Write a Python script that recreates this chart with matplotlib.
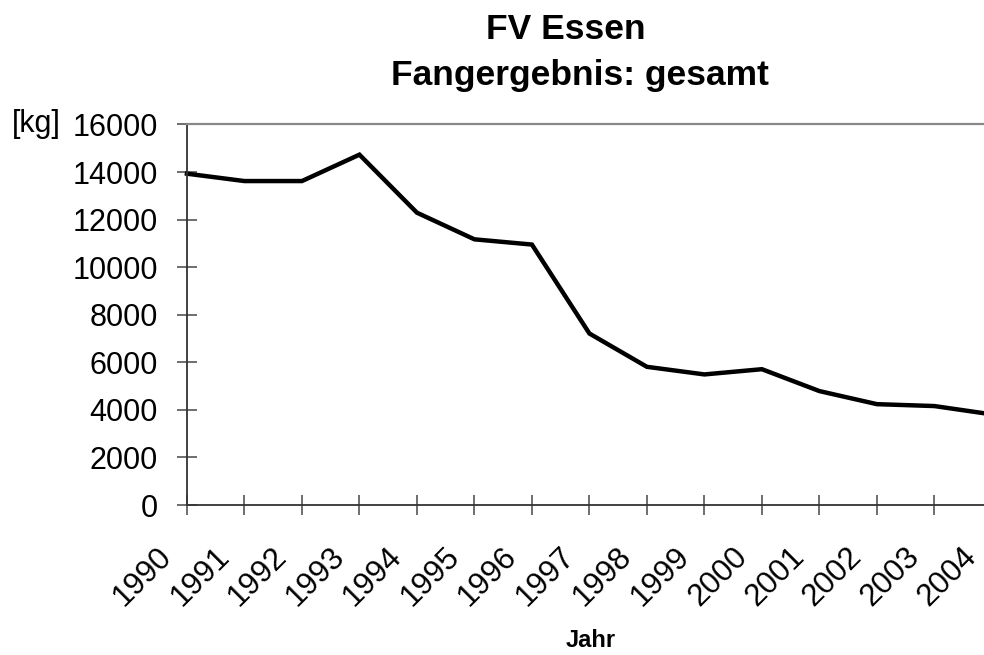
import matplotlib.pyplot as plt
from matplotlib.transforms import ScaledTranslation

# Fangergebnis pro Jahr
jahre = [1990, 1991, 1992, 1993, 1994, 1995, 1996, 1997,
         1998, 1999, 2000, 2001, 2002, 2003, 2004]
fang_kg = [13930, 13620, 13620, 14730, 12290, 11170, 10950, 7210,
           5810, 5490, 5710, 4790, 4240, 4160, 3810]
y_ticks = [0, 2000, 4000, 6000, 8000, 10000, 12000, 14000, 16000]

plt.rcParams['font.family'] = ['Liberation Sans', 'DejaVu Sans']

fig = plt.figure(figsize=(9.84, 6.55), dpi=100)
# Zeichenflaeche reicht rechts ueber den Bildrand hinaus (wie im Original)
ax = fig.add_axes([0.190, 0.229, 0.818, 0.581])

ax.plot(jahre, fang_kg, color='black', linewidth=3.2, clip_on=False,
        solid_joinstyle='miter')

ax.set_xlim(1990, 2004)
ax.set_ylim(0, 16000)
ax.set_yticks(y_ticks)
ax.set_yticklabels([str(v) for v in y_ticks], fontsize=22)
ax.set_xticks(jahre)

ax.tick_params(axis='both', direction='inout', length=14, width=1.2,
               color='#555555')
ax.tick_params(axis='y', pad=14)
ax.tick_params(axis='x', labelbottom=False)

# Jahreszahlen schraeg, leicht links unter dem Tick
offset = ScaledTranslation(-14 / 72, -34 / 72, fig.dpi_scale_trans)
for j in jahre:
    ax.text(j, 0, str(j), transform=ax.get_xaxis_transform() + offset,
            fontsize=22.5, rotation=45, ha='right', va='center',
            rotation_mode='anchor', clip_on=False)

for side in ['left', 'bottom']:
    ax.spines[side].set_color('#333333')
    ax.spines[side].set_linewidth(1.3)
ax.spines['top'].set_color('#888888')
ax.spines['top'].set_linewidth(1.6)
ax.spines['right'].set_visible(False)

fig.text(0.012, 0.810, '[kg]', fontsize=22, ha='left', va='center')
fig.text(0.575, 0.955, 'FV Essen', fontsize=25.5, fontweight='bold',
         ha='center', va='center')
fig.text(0.589, 0.885, 'Fangergebnis: gesamt', fontsize=25.5,
         fontweight='bold', ha='center', va='center')
fig.text(0.600, 0.022, 'Jahr', fontsize=17, fontweight='bold',
         ha='center', va='center')

fig.savefig('out.png', dpi=100)
